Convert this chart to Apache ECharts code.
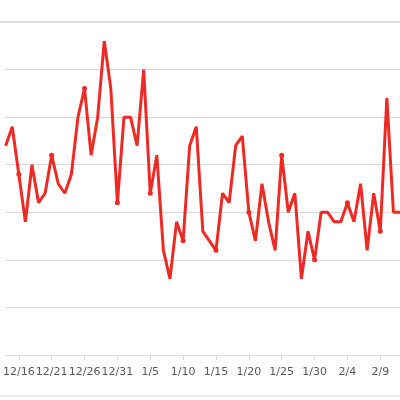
<!DOCTYPE html>
<html><head><meta charset="utf-8">
<script src="https://cdn.jsdelivr.net/npm/echarts@6/dist/echarts.min.js"></script>
<style>html,body{margin:0;padding:0;background:#fff}#c{width:400px;height:400px}</style>
</head><body><div id="c"></div>
<script>
const startMonth = 12, startDay = 14;
const values = [44,48,38,28,40,32,34,42,36,34,38,50,56,42,50,66,56,32,50,50,44,60,34,42,22,16,28,24,44,48,26,24,22,34,32,44,46,30,24,36,28,22,42,30,34,16,26,20,30,30,28,28,32,28,36,22,34,26,54,30,30];
const categories = [];
(function(){const d=new Date(2020,startMonth-1,startDay);for(let i=0;i<values.length;i++){categories.push((d.getMonth()+1)+'/'+d.getDate());d.setDate(d.getDate()+1);}})();
const yTicks = [0,10,20,30,40,50,60,70];
const chart = echarts.init(document.getElementById('c'));
chart.setOption({
  animation:false,
  grid:{left:1,width:400,top:22,bottom:45,containLabel:false},
  xAxis:{type:'category',data:categories,boundaryGap:false,
    axisLine:{lineStyle:{color:'#d9d9d9'}},
    axisTick:{show:true,length:5,interval:(i)=>(i-2)%5===0,lineStyle:{color:'#d9d9d9'}},
    axisLabel:{interval:(i)=>(i-2)%5===0,color:'#595959',fontFamily:'DejaVu Sans',fontSize:11,margin:12}},
  yAxis:{type:'value',min:yTicks[0],max:yTicks[yTicks.length-1],interval:10,
    axisLabel:{show:false},axisLine:{show:false},axisTick:{show:false},
    splitLine:{lineStyle:{color:'#d9d9d9'}}},
  graphic:[
    {type:'line',shape:{x1:0,y1:22,x2:400,y2:22},style:{stroke:'#bfbfbf',lineWidth:1}},
    {type:'line',shape:{x1:0,y1:396,x2:400,y2:396},style:{stroke:'#d9d9d9',lineWidth:1}}
  ],
  series:[{type:'line',data:values,symbol:'circle',symbolSize:5,
    lineStyle:{color:'#ee2a24',width:3},itemStyle:{color:'#ee2a24'}}]
});
</script></body></html>
